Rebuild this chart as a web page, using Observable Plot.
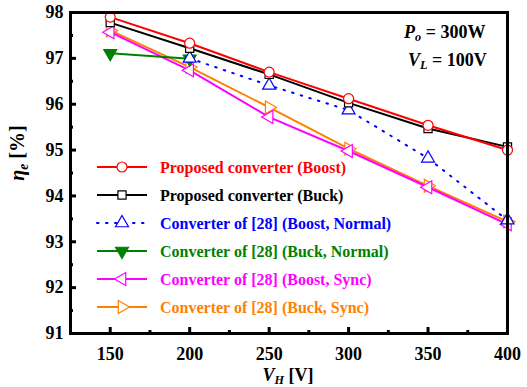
<!DOCTYPE html>
<html>
<head>
<meta charset="utf-8">
<script src="https://cdn.jsdelivr.net/npm/d3@7"></script>
<script src="https://cdn.jsdelivr.net/npm/@observablehq/plot@0.6"></script>
<style>
  html, body { margin: 0; padding: 0; background: #fff; }
  #chart { position: relative; width: 527px; height: 387px; }
</style>
</head>
<body>
<div id="chart"></div>
<script>
const FONT = '"Liberation Serif", "Times New Roman", serif';

// ---- data ----
const vH = [150, 200, 250, 300, 350, 400];
const proposedBoost = [97.90, 97.33, 96.70, 96.12, 95.54, 95.00];
const proposedBuck = [97.78, 97.22, 96.65, 96.03, 95.47, 95.07];
const vHNormalBoost = [200, 250, 300, 350, 400];
const ref28BoostNormal = [97.00, 96.41, 95.87, 94.82, 93.47];
const vHNormalBuck = [150, 200];
const ref28BuckNormal = [97.11, 96.99];
const ref28BoostSync = [97.57, 96.74, 95.72, 94.98, 94.19, 93.38];
const ref28BuckSync = [97.61, 96.81, 95.93, 95.03, 94.22, 93.44];

const xMajor = [150, 200, 250, 300, 350, 400];
const xMinor = [175, 225, 275, 325, 375];
const yMajor = [91, 92, 93, 94, 95, 96, 97, 98];
const yMinor = [91.5, 92.5, 93.5, 94.5, 95.5, 96.5, 97.5];

const seriesNames = [
  "Proposed converter (Boost)",
  "Proposed converter (Buck)",
  "Converter of [28] (Boost, Normal)",
  "Converter of [28] (Buck, Normal)",
  "Converter of [28] (Boost, Sync)",
  "Converter of [28] (Buck, Sync)"
];
const seriesColors = ["#ff0000", "#000000", "#0000ff", "#008000", "#ff00ff", "#ff8000"];
const seriesSymbols = ["circle", "square", "triangle", "triangle", "triangle", "triangle"];
const seriesRotate = [0, 0, 0, 180, -90, 90];
const seriesFilled = [false, false, false, true, false, false];
const seriesDash = [null, null, "1.5,7.5", null, null, null];
const seriesR = [5, 4.6, 4.8, 4.8, 4.8, 4.8];

const toRows = (xs, ys) => xs.map((x, i) => ({x, y: ys[i]}));
const series = [
  toRows(vH, proposedBoost),
  toRows(vH, proposedBuck),
  toRows(vHNormalBoost, ref28BoostNormal),
  toRows(vHNormalBuck, ref28BuckNormal),
  toRows(vH, ref28BoostSync),
  toRows(vH, ref28BuckSync)
];

const W = 527, H = 387, ML = 70, MR = 20, MT = 12, MB = 54;
const PW = W - ML - MR, PH = H - MT - MB;

const order = [5, 4, 3, 2, 1, 0];
const dataMarks = [];
for (const i of order) {
  dataMarks.push(Plot.line(series[i], {
    x: "x", y: "y", stroke: seriesColors[i], strokeWidth: 2,
    strokeDasharray: seriesDash[i], strokeLinecap: seriesDash[i] ? "round" : "butt"
  }));
}
for (const i of order) {
  dataMarks.push(Plot.dot(series[i], {
    x: "x", y: "y", symbol: () => seriesSymbols[i], rotate: seriesRotate[i],
    r: seriesR[i], stroke: seriesColors[i], strokeWidth: 1.2,
    fill: seriesFilled[i] ? seriesColors[i] : "white", fillOpacity: 1
  }));
}

const plot = Plot.plot({
  width: W,
  height: H,
  marginLeft: ML,
  marginRight: MR,
  marginTop: MT,
  marginBottom: MB,
  style: {fontFamily: FONT, background: "white", overflow: "visible"},
  x: {domain: [125, 400], label: null},
  y: {domain: [91, 98], label: null},
  marks: [
    ...dataMarks,
    // inward ticks
    Plot.tickX(xMajor, {x: d => d, stroke: "black", strokeWidth: 3, insetTop: PH - 6}),
    Plot.tickX(xMinor, {x: d => d, stroke: "black", strokeWidth: 3, insetTop: PH - 3}),
    Plot.tickY(yMajor, {y: d => d, stroke: "black", strokeWidth: 3, insetRight: PW - 6}),
    Plot.tickY(yMinor, {y: d => d, stroke: "black", strokeWidth: 3, insetRight: PW - 3}),
    // tick labels
    Plot.axisX(xMajor, {tickSize: 0, tickPadding: 14, fontSize: 18, fontWeight: "bold", fill: "black", label: null, tickFormat: d => String(d)}),
    Plot.axisY(yMajor, {tickSize: 0, tickPadding: 7, fontSize: 18, fontWeight: "bold", fill: "black", label: null, tickFormat: d => String(d)}),
    Plot.frame({stroke: "black", strokeWidth: 3})
  ]
});

document.getElementById("chart").appendChild(plot);

// ---- legend, annotations, axis titles via d3 ----
const svg = d3.select(plot);
const leg = svg.append("g").attr("font-family", FONT).attr("text-anchor", "start");
const legX0 = 97, legX1 = 147, legTextX = 160, legY0 = 167, legDy = 28;
seriesNames.forEach((name, i) => {
  const y = legY0 + i * legDy;
  leg.append("line").attr("x1", legX0).attr("x2", legX1).attr("y1", y).attr("y2", y)
    .attr("stroke", seriesColors[i]).attr("stroke-width", 2)
    .attr("stroke-dasharray", seriesDash[i]).attr("stroke-linecap", seriesDash[i] ? "round" : "butt");
  const sym = seriesSymbols[i] === "circle" ? d3.symbolCircle : seriesSymbols[i] === "square" ? d3.symbolSquare : d3.symbolTriangle;
  leg.append("path")
    .attr("d", d3.symbol(sym, Math.PI * seriesR[i] * seriesR[i])())
    .attr("transform", `translate(${(legX0 + legX1) / 2},${y}) rotate(${seriesRotate[i]})`)
    .attr("fill", seriesFilled[i] ? seriesColors[i] : "white")
    .attr("stroke", seriesColors[i]).attr("stroke-width", 1.2);
  leg.append("text").attr("x", legTextX).attr("y", y + 5.5).attr("text-anchor", "start")
    .attr("fill", seriesColors[i]).attr("font-size", 16).attr("font-weight", "bold")
    .text(name);
});

function richText(g, x, y, parts, size, anchor, extra) {
  const t = g.append("text").attr("x", x).attr("y", y).attr("font-family", FONT)
    .attr("font-size", size).attr("font-weight", "bold").attr("fill", "black")
    .attr("text-anchor", anchor || "start");
  if (extra) extra(t);
  parts.forEach(p => {
    const s = t.append("tspan").text(p.t);
    if (p.i) s.attr("font-style", "italic");
    if (p.sub) s.attr("font-size", size * 0.68).attr("baseline-shift", "-25%");
  });
  return t;
}
richText(svg, 404, 38, [{t: "P", i: true}, {t: "o", i: true, sub: true}, {t: " = 300W"}], 18);
richText(svg, 408, 66, [{t: "V", i: true}, {t: "L", i: true, sub: true}, {t: " = 100V"}], 18);
richText(svg, 288, 381, [{t: "V", i: true}, {t: "H", i: true, sub: true}, {t: " [V]"}], 18, "middle");
richText(svg, 0, 0, [{t: "η", i: true}, {t: "e", i: true, sub: true}, {t: " [%]"}], 20, "middle",
  t => t.attr("transform", "translate(24,153) rotate(-90)"));
</script>
</body>
</html>
